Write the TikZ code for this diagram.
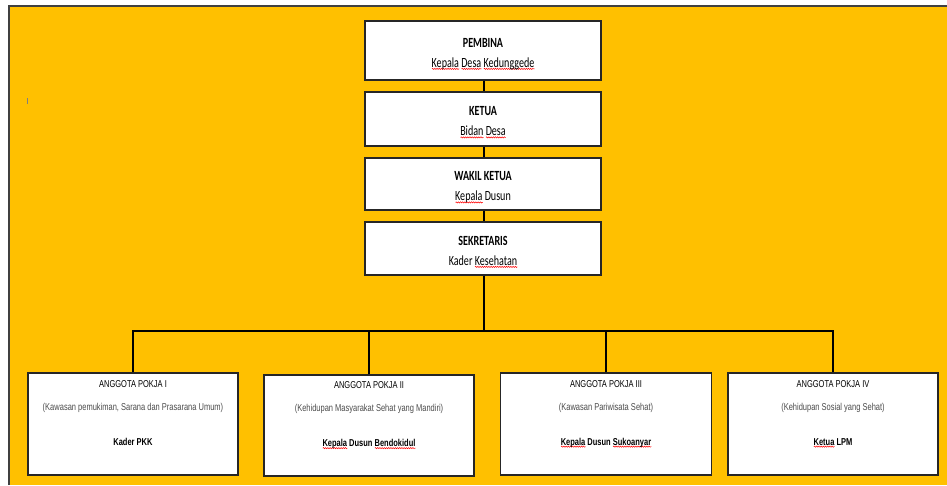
\documentclass[tikz,border=0pt]{standalone}
\usepackage{fontspec}
\usepackage{xcolor}
\usetikzlibrary{decorations.pathmorphing}
\newfontfamily\topfont[FakeStretch=0.72]{Carlito}
\newfontfamily\pokfont[FakeStretch=0.75]{Liberation Sans}
\definecolor{gold}{HTML}{FFC000}
\newcommand\squig[1]{\leavevmode\setbox0\hbox{#1}\rlap{\raisebox{-2.5pt}{\tikz\draw[red, line width=0.5pt, decorate, decoration={snake, amplitude=0.6pt, segment length=2.2pt}] (0pt,0pt) -- (\the\wd0,0pt);}}\box0\relax}
\newcommand\ttl[1]{\rule{0pt}{16pt}\textbf{#1}}

\begin{document}
\begin{tikzpicture}[x=1pt, y=-1pt,
  topbox/.style={draw=black!85, fill=white, line width=1.4pt, inner sep=0pt, minimum width=236pt, align=center, font=\topfont\fontsize{14}{20}\selectfont},
  pokja/.style={draw=black!85, fill=white, line width=1.2pt, inner sep=0pt, minimum width=210pt, minimum height=102pt, align=center, font=\pokfont\fontsize{10}{23}\selectfont},
  link/.style={line width=1.6pt, black}]
\useasboundingbox (0,0) rectangle (947,485);
\fill[white] (0,0) rectangle (947,485);
\fill[gold] (9,6) rectangle (947,485);
\draw[line width=1.5pt, black!75] (9,485) -- (9,6) -- (947,6);
\draw[gray, line width=1pt] (27,98) -- (27,104);

\node[topbox, minimum height=59pt] (pemb) at (483,50.5) {\ttl{PEMBINA}\\\squig{Kepala} \squig{Desa} \squig{Kedunggede}};
\node[topbox, minimum height=54pt] (ketua) at (483,119) {\ttl{KETUA}\\\squig{Bidan} \squig{Desa}};
\node[topbox, minimum height=52pt] (wakil) at (483,184) {\ttl{WAKIL KETUA}\\\squig{Kepala} Dusun};
\node[topbox, minimum height=53pt] (sek) at (483,248.5) {\ttl{SEKRETARIS}\\Kader \squig{Kesehatan}};

\node[pokja] (p1) at (133,424) {ANGGOTA POKJA I\\{\color{black!70}(Kawasan pemukiman, Sarana dan Prasarana Umum)}\\[12pt]\textbf{Kader PKK}\\\mbox{}};
\node[pokja, minimum height=101pt] (p2) at (369,425.5) {ANGGOTA POKJA II\\{\color{black!70}(Kehidupan Masyarakat Sehat yang Mandiri)}\\[12pt]\textbf{\squig{Kepala} Dusun \squig{Bendokidul}}\\\mbox{}};
\node[pokja, minimum width=211pt] (p3) at (606,424) {ANGGOTA POKJA III\\{\color{black!70}(Kawasan Pariwisata Sehat)}\\[12pt]\textbf{\squig{Kepala} Dusun \squig{Sukoanyar}}\\\mbox{}};
\node[pokja] (p4) at (833,424) {ANGGOTA POKJA IV\\{\color{black!70}(Kehidupan Sosial yang Sehat)}\\[12pt]\textbf{\squig{Ketua} LPM}\\\mbox{}};

\coordinate (bus) at (484,331);
\draw[link] (pemb.south -| bus) -- (ketua.north -| bus);
\draw[link] (ketua.south -| bus) -- (wakil.north -| bus);
\draw[link] (wakil.south -| bus) -- (sek.north -| bus);
\draw[link] (sek.south -| bus) -- (bus);
\draw[link] (p1.north) |- (bus) -| (p4.north);
\draw[link] (p2.north) -- (p2.north |- bus);
\draw[link] (p3.north) -- (p3.north |- bus);
\end{tikzpicture}
\end{document}
